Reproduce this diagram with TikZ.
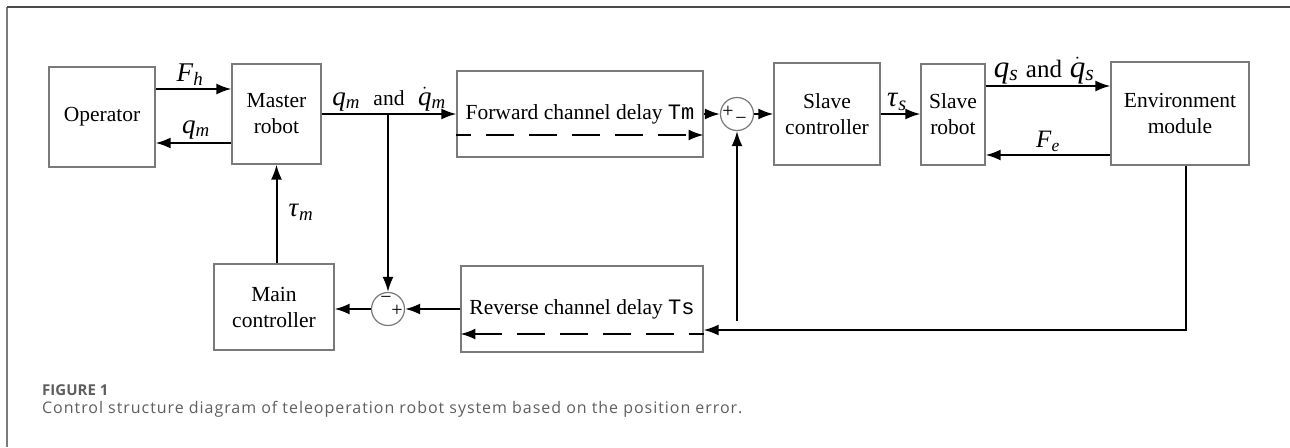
\documentclass[tikz,border=0pt]{standalone}
\usepackage{fontspec}
\usepackage{amsmath}
\setmainfont{Liberation Serif}
\newfontfamily\monofnt{Liberation Mono}
\newfontfamily\capfont{Open Sans}
\usetikzlibrary{arrows.meta}

\definecolor{boxgray}{HTML}{7A7A7A}
\definecolor{framegray}{HTML}{4A4A4A}
\definecolor{edgegray}{HTML}{7C7C7C}
\definecolor{capgray}{HTML}{5E5E5E}

\newcommand{\qdot}{\ensuremath{\dot{\textit{q}}}}
\newcommand{\sub}[1]{\textsubscript{\textit{#1}}}
\newcommand{\andword}[1]{{\fontsize{#1}{#1}\selectfont and}}

\tikzset{
  blk/.style={draw=boxgray, line width=1.2pt, fill=white, inner sep=0pt,
    align=center, font=\fontsize{21.5}{26}\selectfont},
  sumnode/.style={circle, draw=boxgray, line width=1.2pt, fill=white,
    minimum size=33pt, inner sep=0pt},
  sig/.style={draw=black, line width=2pt, -{Latex[length=15pt,width=11pt]}},
  delay/.style={draw=black, line width=2pt, dash pattern=on 28pt off 15pt,
    dash phase=13pt, -{Latex[length=15pt,width=11pt]}},
  lbl/.style={inner sep=0pt, anchor=south, font=\fontsize{27}{27}\selectfont},
  biglbl/.style={inner sep=0pt, anchor=south, font=\fontsize{31}{31}\selectfont},
  sgn/.style={inner sep=0pt, font=\fontsize{20}{20}\selectfont},
}

\begin{document}
\begin{tikzpicture}[x=1pt, y=-1pt]
\useasboundingbox (0,0) rectangle (1290,447);

% card frame
\draw[edgegray, line width=1.4pt] (7,447) -- (7,7);
\draw[framegray, line width=1.8pt] (7,7) -- (1290,7);

% signal levels
\coordinate (yFh) at (0,89);
\coordinate (yqm) at (0,143);
\coordinate (yqs) at (0,86);
\coordinate (yFe) at (0,155);
\coordinate (ydF) at (0,135);
\coordinate (ydR) at (0,334);
\coordinate (yret) at (0,330);
\coordinate (retx) at (1186,0);

% blocks
\node[blk, minimum width=106pt, minimum height=100pt] (op) at (102,117) {Operator};
\node[blk, minimum width=89pt, minimum height=100pt] (master) at (276.5,114) {Master\\robot};
\node[blk, minimum width=246pt, minimum height=86pt] (fwd) at (580,114)
  {\raisebox{-2pt}{Forward channel delay {\monofnt\fontsize{22}{22}\selectfont Tm}}};
\node[sumnode] (s1) at (737,114) {};
\node[blk, minimum width=106pt, minimum height=102pt] (sctrl) at (827,114) {Slave\\controller};
\node[blk, minimum width=64pt, minimum height=101pt] (srob) at (953,114.5) {Slave\\robot};
\node[blk, minimum width=138pt, minimum height=103pt] (env) at (1180,113.5) {Environment\\module};
\node[blk, minimum width=120pt, minimum height=86pt] (mctrl) at (274,307) {Main\\controller};
\node[sumnode] (s2) at (388,309) {};
\node[blk, minimum width=242pt, minimum height=86pt] (rev) at (582,309)
  {Reverse channel delay {\monofnt\fontsize{22}{22}\selectfont Ts}};

% sign marks at the summing junctions
\node[sgn] (s1p) at (728,112) {+};
\node[sgn] (s1m) at (741,121) {\textminus};
\node[sgn] (s2m) at (386,300) {\textminus};
\node[sgn] (s2p) at (397,311) {+};

% operator <-> master
\draw[sig] (op.east |- yFh) -- (master.west |- yFh);
\draw[sig] (master.west |- yqm) -- (op.east |- yqm);
\node[lbl] (lFh) at (190,86) {\textit{F}\sub{h}};
\node[lbl] (lqm) at (196,139) {\textit{q}\sub{m}};

% master -> forward channel, with branch down to lower junction
\coordinate (br) at (s2 |- master.east);
\draw[sig] (master.east) -- (fwd.west |- master.east);
\draw[sig] (br) -- (s2.north);
\node[lbl] (lqmd) at (389,111) {\textit{q}\sub{m}\ \ \andword{21.5}\ \ \qdot\sub{m}};

% forward channel
\draw[delay] (fwd.west |- ydF) -- (fwd.east |- ydF);
\draw[sig] (fwd.east |- s1) -- (s1.west);
\draw[sig] (s1.east) -- (sctrl.west |- s1);

% slave side
\draw[sig] (sctrl.east) -- (srob.west |- sctrl.east);
\node[lbl, font=\fontsize{29}{29}\selectfont] (ltaus) at (897,111) {\textit{τ}\sub{s}};
\draw[sig] (srob.east |- yqs) -- (env.west |- yqs);
\node[biglbl] (lqs) at (1044,84) {\textit{q}\sub{s}\ \andword{25}\ \qdot\sub{s}};
\draw[sig] (env.west |- yFe) -- (srob.east |- yFe);
\node[lbl, font=\fontsize{25}{25}\selectfont] (lFe) at (1048,152) {\textit{F}\sub{e}};

% feedback from environment through reverse channel
\draw[sig] (env.south -| retx) |- (rev.east |- yret);
\draw[delay] (rev.east |- ydR) -- (rev.west |- ydR);
\coordinate (fb) at (737,321);
\draw[sig] (fb) -- (s1.south);

% reverse channel -> junction -> main controller -> master
\draw[sig] (rev.west) -- (s2.east);
\draw[sig] (s2.west) -- (mctrl.east |- s2);
\draw[sig] (master.south |- mctrl.north) -- (master.south);
\node[lbl, anchor=center] (ltaum) at (301,212) {\textit{τ}\sub{m}};

% caption
\node[anchor=west, inner sep=0pt, text=capgray, font=\capfont\bfseries\fontsize{15}{15}\selectfont] (figno) at (42,390) {FIGURE 1};
\node[anchor=west, inner sep=0pt, text=capgray, font=\capfont\fontsize{16}{16}\selectfont\addfontfeatures{LetterSpace=6}] (caption) at (42,409)
  {Control structure diagram of teleoperation robot system based on the position error.};
\end{tikzpicture}
\end{document}
